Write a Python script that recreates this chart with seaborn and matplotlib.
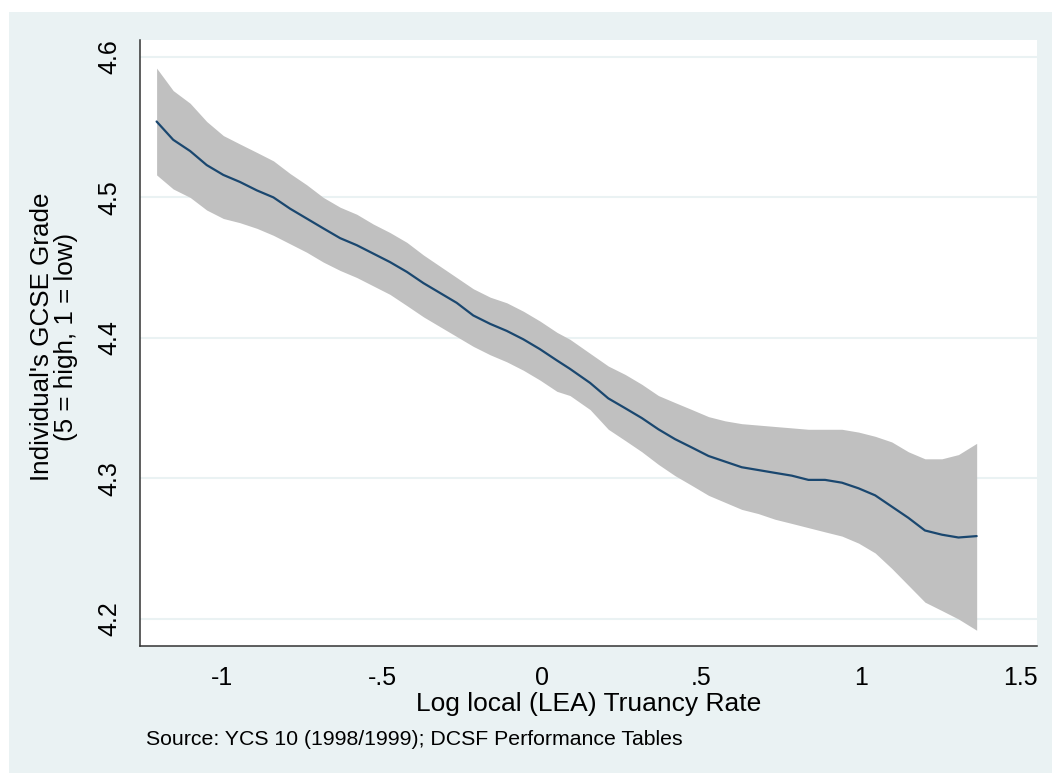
import matplotlib
matplotlib.use("Agg")
import matplotlib.pyplot as plt
import seaborn as sns
import pandas as pd
from matplotlib.patches import Rectangle

# ---- data ----
truancy = [-1.206, -1.154, -1.101, -1.049, -0.997, -0.945, -0.892, -0.840, -0.788, -0.736,
           -0.684, -0.631, -0.579, -0.527, -0.475, -0.422, -0.370, -0.318, -0.266, -0.214,
           -0.161, -0.109, -0.057, -0.005, 0.048, 0.089, 0.152, 0.209, 0.262, 0.314,
           0.366, 0.418, 0.471, 0.523, 0.575, 0.627, 0.679, 0.731, 0.784, 0.836,
           0.888, 0.941, 0.993, 1.045, 1.097, 1.149, 1.201, 1.254, 1.306, 1.363]
grade_fit = [4.554, 4.541, 4.533, 4.523, 4.516, 4.511, 4.505, 4.500, 4.492, 4.485,
             4.478, 4.471, 4.466, 4.460, 4.454, 4.447, 4.439, 4.432, 4.425, 4.416,
             4.410, 4.405, 4.399, 4.392, 4.384, 4.378, 4.368, 4.357, 4.350, 4.343,
             4.335, 4.328, 4.322, 4.316, 4.312, 4.308, 4.306, 4.304, 4.302, 4.299,
             4.299, 4.297, 4.293, 4.288, 4.280, 4.272, 4.263, 4.260, 4.258, 4.259]
ci_upper = [4.592, 4.576, 4.567, 4.554, 4.544, 4.538, 4.532, 4.526, 4.517, 4.509,
            4.500, 4.493, 4.488, 4.481, 4.475, 4.468, 4.459, 4.451, 4.443, 4.435,
            4.429, 4.425, 4.419, 4.412, 4.404, 4.399, 4.389, 4.380, 4.374, 4.367,
            4.359, 4.354, 4.349, 4.344, 4.341, 4.339, 4.338, 4.337, 4.336, 4.335,
            4.335, 4.335, 4.333, 4.330, 4.326, 4.319, 4.314, 4.314, 4.317, 4.325]
ci_lower = [4.516, 4.506, 4.500, 4.491, 4.485, 4.482, 4.478, 4.473, 4.467, 4.461,
            4.454, 4.448, 4.443, 4.437, 4.431, 4.423, 4.415, 4.408, 4.401, 4.394,
            4.388, 4.383, 4.377, 4.370, 4.362, 4.359, 4.349, 4.335, 4.327, 4.319,
            4.310, 4.302, 4.295, 4.288, 4.283, 4.278, 4.275, 4.271, 4.268, 4.265,
            4.262, 4.259, 4.254, 4.247, 4.236, 4.224, 4.212, 4.206, 4.200, 4.192]
x_ticks = [-1, -0.5, 0, 0.5, 1, 1.5]
x_ticklabels = ["-1", "-.5", "0", ".5", "1", "1.5"]
y_ticks = [4.2, 4.3, 4.4, 4.5, 4.6]
y_ticklabels = ["4.2", "4.3", "4.4", "4.5", "4.6"]

df = pd.DataFrame({"x": truancy, "fit": grade_fit, "lo": ci_lower, "hi": ci_upper})

sns.set_style("white")
plt.rcParams["font.family"] = ["Liberation Sans", "DejaVu Sans"]

BG = "#EAF2F3"
fig = plt.figure(figsize=(10.52, 7.73), dpi=100, facecolor="white")
fig.patches.append(Rectangle((9 / 1052, 0), 1 - 9 / 1052, 1 - 12 / 773,
                             transform=fig.transFigure, facecolor=BG,
                             edgecolor="none", zorder=-10))

ax = fig.add_axes([140 / 1052, 1 - 646 / 773, (1037 - 140) / 1052, (646 - 40) / 773])
ax.set_zorder(5)
ax.set_facecolor("white")

ax.fill_between(df["x"], df["lo"], df["hi"], color="#C0C0C0", linewidth=0, zorder=2)
sns.lineplot(data=df, x="x", y="fit", ax=ax, color="#1A476F", linewidth=1.6,
             zorder=3, errorbar=None)

ax.set_xlim(-1.258, 1.552)
ax.set_ylim(4.1808, 4.612)

ax.set_yticks(y_ticks)
ax.set_yticklabels(y_ticklabels, rotation=90, va="center")
ax.set_xticks(x_ticks)
ax.set_xticklabels(x_ticklabels)

ax.grid(axis="y", color=BG, linewidth=1.5, zorder=1)
ax.grid(axis="x", visible=False)
ax.set_axisbelow(True)

for s in ["top", "right"]:
    ax.spines[s].set_visible(False)
for s in ["left", "bottom"]:
    ax.spines[s].set_color("#333333")
    ax.spines[s].set_linewidth(1.1)

ax.tick_params(axis="both", direction="out", length=7.5, width=1.0,
               color="#333333", labelsize=18, labelcolor="black")
ax.tick_params(axis="y", pad=6)
ax.tick_params(axis="x", pad=7)

ax.set_xlabel("Log local (LEA) Truancy Rate", fontsize=19, labelpad=1, color="black")
ax.set_ylabel("")

fig.text(54 / 1052, 1 - 337 / 773, "Individual's GCSE Grade\n(5 = high, 1 = low)",
         rotation=90, ha="center", va="center", multialignment="center",
         fontsize=18.7, linespacing=1.0, color="black")

fig.text(146 / 1052, 1 - 745 / 773, "Source: YCS 10 (1998/1999); DCSF Performance Tables",
         ha="left", va="baseline", fontsize=15.3, color="black")

fig.savefig("out.png", dpi=100, facecolor=fig.get_facecolor())
